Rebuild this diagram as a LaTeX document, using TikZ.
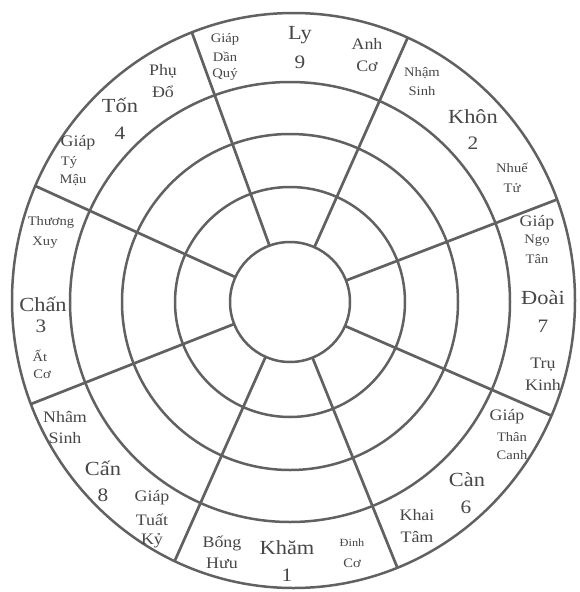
\documentclass[tikz,border=0pt]{standalone}
\usepackage{fontspec}
\usetikzlibrary{calc}
\setmainfont{Liberation Serif}[FakeStretch=1.12]
\begin{document}
\begin{tikzpicture}[x=1pt,y=-1pt,
  ring/.style={draw=black!62,line width=2.5pt},
  spoke/.style={draw=black!62,line width=2.7pt},
  lab/.style={text=black!72,inner sep=0pt},
  big/.style={lab,font=\fontsize{20}{20}\selectfont},
  num/.style={lab,font=\fontsize{19}{19}\selectfont},
  mid/.style={lab,font=\fontsize{16}{16}\selectfont},
  sml/.style={lab,font=\fontsize{13}{13}\selectfont},
  tiny/.style={lab,font=\fontsize{11}{11}\selectfont}]
\useasboundingbox (0,0) rectangle (579,592);
\fill[white] (0,0) rectangle (579,592);
\coordinate (c) at (290,302);
\coordinate (o) at (293.5,300.5);
% rings
\draw[ring] (c) circle [radius=60pt];
\draw[ring] (c) circle [radius=115pt];
\draw[ring] (c) circle [radius=168pt];
\draw[ring] (c) circle [radius=220pt];
\draw[ring] (o) ellipse [x radius=281.5pt, y radius=287.5pt];
% spokes
\begin{scope}
\clip (o) ellipse [x radius=281.5pt, y radius=287.5pt];
\foreach \a in {110,66,21,-23.5,-68,-114,201.5,155.5}{
  \draw[spoke] ($(c)+(\a:60pt)$) -- ($(c)+(\a:330pt)$);
}
\end{scope}
% Ly 9
\node[sml] (ga1) at (225,39) {Giáp};
\node[sml] (ga2) at (225,57) {Dần};
\node[sml] (ga3) at (225,74) {Quý};
\node[big] (ly) at (300,35) {Ly};
\node[num] (n9) at (300,62) {9};
\node[mid] (an1) at (367,44) {Anh};
\node[mid] (an2) at (367,66) {Cơ};
% Khon 2
\node[sml] (nh1) at (422,73) {Nhậm};
\node[sml] (nh2) at (422,91) {Sinh};
\node[big] (kh) at (473,117) {Khôn};
\node[num] (n2) at (473,143) {2};
\node[sml] (nu1) at (512,168) {Nhuế};
\node[sml] (nu2) at (512,188) {Tử};
% Doai 7
\node[mid] (gb1) at (537,223) {Giáp};
\node[sml] (gb2) at (537,241) {Ngọ};
\node[sml] (gb3) at (537,259) {Tân};
\node[big] (do) at (543,298) {Đoài};
\node[num] (n7) at (543,326) {7};
\node[mid] (tr1) at (543,365) {Trụ};
\node[mid] (tr2) at (543,385) {Kinh};
% Can 6
\node[mid] (gc1) at (507,417) {Giáp};
\node[sml] (gc2) at (512,437) {Thân};
\node[sml] (gc3) at (512,455) {Canh};
\node[big] (ca) at (467,480) {Càn};
\node[num] (n6) at (466,507) {6};
\node[mid] (ki1) at (417,515) {Khai};
\node[mid] (ki2) at (417,537) {Tâm};
% Kham 1
\node[mid] (bo1) at (222,543) {Bống};
\node[mid] (bo2) at (222,563) {Hưu};
\node[big] (km) at (287,548) {Khăm};
\node[num] (n1) at (287,575) {1};
\node[tiny] (di1) at (352,543) {Đinh};
\node[sml] (di2) at (352,563) {Cơ};
% Can 8
\node[mid] (ns1) at (65,417) {Nhâm};
\node[mid] (ns2) at (65,438) {Sinh};
\node[big] (cn) at (103,468) {Cấn};
\node[num] (n8) at (103,495) {8};
\node[mid] (gd1) at (152,498) {Giáp};
\node[mid] (gd2) at (152,520) {Tuất};
\node[mid] (gd3) at (152,541) {Kỷ};
% Chan 3
\node[sml] (th1) at (51,222) {Thương};
\node[sml] (th2) at (45,243) {Xuy};
\node[big] (ch) at (43,304) {Chấn};
\node[num] (n3) at (41,326) {3};
\node[sml] (at1) at (40,356) {Ất};
\node[sml] (at2) at (42,374) {Cơ};
% Ton 4
\node[mid] (ph1) at (163,71) {Phụ};
\node[mid] (ph2) at (163,92) {Đổ};
\node[big] (to) at (120,105) {Tốn};
\node[num] (n4) at (120,133) {4};
\node[mid] (ge1) at (78,143) {Giáp};
\node[sml] (ge2) at (69,162) {Tý};
\node[sml] (ge3) at (73,180) {Mậu};
\end{tikzpicture}
\end{document}
